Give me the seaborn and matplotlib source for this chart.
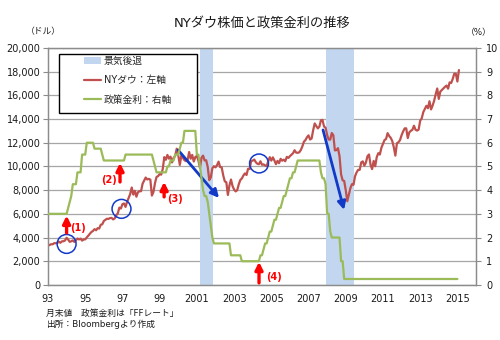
import numpy as np
import pandas as pd
import matplotlib
matplotlib.use("Agg")
import matplotlib.pyplot as plt
import seaborn as sns
from matplotlib.lines import Line2D
from matplotlib.patches import Patch, Rectangle

# ---------------- data ----------------
start_year = 1993  # monthly data, January 1993 onward (month-end values)

dow_monthly = [
    3310, 3370, 3435, 3428, 3527, 3516, 3540, 3651, 3555, 3681, 3684, 3754,   # 1993
    3978, 3832, 3636, 3682, 3758, 3625, 3765, 3913, 3843, 3908, 3739, 3834,   # 1994
    3844, 4011, 4158, 4321, 4465, 4556, 4709, 4611, 4789, 4756, 5075, 5117,   # 1995
    5395, 5486, 5587, 5569, 5643, 5655, 5529, 5616, 5882, 6029, 6522, 6448,   # 1996
    6813, 6878, 6584, 7009, 7331, 7673, 8223, 7622, 7945, 7442, 7823, 7908,   # 1997
    7907, 8546, 8800, 9063, 8900, 8952, 8883, 7539, 7843, 8592, 9117, 9181,   # 1998
    9359, 9307, 9786, 10789, 10560, 10971, 10655, 10829, 10337, 10730, 10878, 11497,  # 1999
    10941, 10128, 10922, 10734, 10522, 10448, 10522, 11215, 10651, 10971, 10415, 10787,  # 2000
    10887, 10495, 9879, 10735, 10912, 10502, 10523, 9950, 8848, 9075, 9852, 10022,  # 2001
    9920, 10106, 10404, 9946, 9925, 9243, 8737, 8664, 7592, 8397, 8896, 8342,  # 2002
    8054, 7891, 7992, 8480, 8850, 8985, 9234, 9416, 9275, 9801, 9782, 10454,  # 2003
    10488, 10584, 10358, 10226, 10188, 10435, 10140, 10174, 10080, 10027, 10428, 10783,  # 2004
    10490, 10766, 10504, 10193, 10467, 10275, 10641, 10482, 10569, 10440, 10806, 10718,  # 2005
    10865, 10993, 11109, 11367, 11168, 11150, 11186, 11381, 11679, 12081, 12222, 12463,  # 2006
    12622, 12269, 12354, 13063, 13628, 13409, 13212, 13358, 13896, 13930, 13372, 13265,  # 2007
    12650, 12266, 12263, 12820, 12638, 11350, 11378, 11544, 10851, 9325, 8829, 8776,  # 2008
    8001, 7063, 7609, 8168, 8500, 8447, 9172, 9496, 9712, 9713, 10345, 10428,  # 2009
    10067, 10325, 10857, 11009, 10137, 9774, 10466, 10015, 10788, 11118, 11006, 11578,  # 2010
    11892, 12226, 12320, 12811, 12570, 12414, 12143, 11614, 10913, 11955, 12046, 12218,  # 2011
    12633, 12952, 13212, 13214, 12393, 12880, 13009, 13091, 13437, 13096, 13026, 13104,  # 2012
    13861, 14054, 14579, 14840, 15116, 14910, 15500, 14810, 15130, 15546, 16086, 16577,  # 2013
    15699, 16322, 16458, 16581, 16717, 16827, 16563, 17098, 17043, 17391, 17828, 17823,  # 2014
    17165, 18133,  # 2015
]

rate_monthly = [
    3.0, 3.0, 3.0, 3.0, 3.0, 3.0, 3.0, 3.0, 3.0, 3.0, 3.0, 3.0,            # 1993
    3.0, 3.25, 3.5, 3.75, 4.25, 4.25, 4.25, 4.75, 4.75, 4.75, 5.5, 5.5,    # 1994
    5.5, 6.0, 6.0, 6.0, 6.0, 6.0, 5.75, 5.75, 5.75, 5.75, 5.75, 5.5,       # 1995
    5.25, 5.25, 5.25, 5.25, 5.25, 5.25, 5.25, 5.25, 5.25, 5.25, 5.25, 5.25,  # 1996
    5.25, 5.25, 5.5, 5.5, 5.5, 5.5, 5.5, 5.5, 5.5, 5.5, 5.5, 5.5,          # 1997
    5.5, 5.5, 5.5, 5.5, 5.5, 5.5, 5.5, 5.5, 5.25, 5.0, 4.75, 4.75,         # 1998
    4.75, 4.75, 4.75, 4.75, 4.75, 5.0, 5.0, 5.25, 5.25, 5.25, 5.5, 5.5,    # 1999
    5.5, 5.75, 6.0, 6.0, 6.5, 6.5, 6.5, 6.5, 6.5, 6.5, 6.5, 6.5,           # 2000
    5.5, 5.5, 5.0, 4.5, 4.0, 3.75, 3.75, 3.5, 3.0, 2.5, 2.0, 1.75,         # 2001
    1.75, 1.75, 1.75, 1.75, 1.75, 1.75, 1.75, 1.75, 1.75, 1.75, 1.25, 1.25,  # 2002
    1.25, 1.25, 1.25, 1.25, 1.25, 1.0, 1.0, 1.0, 1.0, 1.0, 1.0, 1.0,       # 2003
    1.0, 1.0, 1.0, 1.0, 1.0, 1.25, 1.25, 1.5, 1.75, 1.75, 2.0, 2.25,       # 2004
    2.25, 2.5, 2.75, 2.75, 3.0, 3.25, 3.25, 3.5, 3.75, 3.75, 4.0, 4.25,    # 2005
    4.5, 4.5, 4.75, 4.75, 5.0, 5.25, 5.25, 5.25, 5.25, 5.25, 5.25, 5.25,   # 2006
    5.25, 5.25, 5.25, 5.25, 5.25, 5.25, 5.25, 5.25, 4.75, 4.5, 4.5, 4.25,  # 2007
    3.0, 3.0, 2.25, 2.0, 2.0, 2.0, 2.0, 2.0, 2.0, 1.0, 1.0, 0.25,          # 2008
    0.25, 0.25, 0.25, 0.25, 0.25, 0.25, 0.25, 0.25, 0.25, 0.25, 0.25, 0.25,  # 2009
    0.25, 0.25, 0.25, 0.25, 0.25, 0.25, 0.25, 0.25, 0.25, 0.25, 0.25, 0.25,  # 2010
    0.25, 0.25, 0.25, 0.25, 0.25, 0.25, 0.25, 0.25, 0.25, 0.25, 0.25, 0.25,  # 2011
    0.25, 0.25, 0.25, 0.25, 0.25, 0.25, 0.25, 0.25, 0.25, 0.25, 0.25, 0.25,  # 2012
    0.25, 0.25, 0.25, 0.25, 0.25, 0.25, 0.25, 0.25, 0.25, 0.25, 0.25, 0.25,  # 2013
    0.25, 0.25, 0.25, 0.25, 0.25, 0.25, 0.25, 0.25, 0.25, 0.25, 0.25, 0.25,  # 2014
    0.25,  # 2015
]

recession_start = [2001.17, 2007.93]
recession_end = [2001.87, 2009.45]

x_tick_years = [1993, 1995, 1997, 1999, 2001, 2003, 2005, 2007, 2009, 2011, 2013, 2015]
x_tick_labels = ["93", "95", "97", "99", "2001", "2003", "2005", "2007", "2009", "2011", "2013", "2015"]

# annotations (data coordinates)
circle_x = [1994.0, 1996.95, 2004.34]
circle_y = [3460, 6420, 10250]

red_arrow_x = [1994.0, 1996.87, 1999.24, 2004.34]
red_arrow_tail = [4390, 8690, 7430, 170]
red_arrow_tip = [5850, 10300, 8700, 1950]
red_label_text = ["(1)", "(2)", "(3)", "(4)"]
red_label_x = [1994.6, 1996.3, 1999.8, 2005.15]
red_label_y = [4810, 8860, 7260, 680]

blue_arrow_start = [(1999.99, 11390), (2007.78, 13080)]
blue_arrow_end = [(2002.19, 7340), (2008.91, 6330)]

title = "NYダウ株価と政策金利の推移"
legend_labels = ["景気後退", "NYダウ：左軸", "政策金利：右軸"]
note_lines = ["月末値　政策金利は「FFレート」", "出所：Bloombergより作成"]

# ---------------- style ----------------
sns.set_theme(style="white")
plt.rcParams["font.family"] = ["DejaVu Sans", "Noto Sans CJK JP"]

RED = "#C0504D"
GREEN = "#9BBB59"
SHADE = "#C3D6EF"
BLUE = "#1239C8"
GRID = "#A6A6A6"
SPINE = "#8C8C8C"
TXT = "#1a1a1a"

dow_df = pd.DataFrame({"t": start_year + np.arange(len(dow_monthly)) / 12.0, "dow": dow_monthly})
rate_df = pd.DataFrame({"t": start_year + np.arange(len(rate_monthly)) / 12.0, "rate": rate_monthly})

fig = plt.figure(figsize=(5, 3.4), dpi=100)
fig.patch.set_facecolor("white")
ax = fig.add_axes([0.096, 0.162, 0.856, 0.697])
ax2 = ax.twinx()

for s, e in zip(recession_start, recession_end):
    ax.axvspan(s, e, color=SHADE, lw=0, zorder=1)

sns.lineplot(data=dow_df, x="t", y="dow", ax=ax, color=RED, lw=1.6, zorder=3)
sns.lineplot(data=rate_df, x="t", y="rate", ax=ax2, color=GREEN, lw=1.6, zorder=3)

ax.set_xlim(1993, 2016)
ax.set_ylim(0, 20000)
ax2.set_ylim(0, 10)
ax.set_xlabel("")
ax.set_ylabel("")
ax2.set_ylabel("")

ax.set_yticks(np.arange(0, 20001, 2000))
ax.set_yticklabels([f"{v:,}" for v in range(0, 20001, 2000)])
ax2.set_yticks(range(0, 11))
ax.set_xticks(x_tick_years)
ax.set_xticklabels(x_tick_labels)
ax.set_xticks(range(1993, 2017), minor=True)

ax.grid(axis="y", color=GRID, lw=0.9, zorder=0)
ax.set_axisbelow(True)
ax2.grid(False)

for a in (ax, ax2):
    for sp in a.spines.values():
        sp.set_color(SPINE)
        sp.set_linewidth(0.9)
ax.tick_params(axis="both", which="both", direction="out", color=SPINE, length=3.5, width=0.8,
               labelsize=7, labelcolor=TXT, pad=2)
ax.tick_params(axis="x", which="minor", length=3.5)
ax.tick_params(axis="x", pad=3)
ax2.tick_params(axis="y", direction="out", color=SPINE, length=3.5, width=0.8,
                labelsize=7, labelcolor=TXT, pad=4)

# legend box
box = Rectangle((0.026, 0.726), 0.322, 0.249, transform=ax.transAxes, facecolor="white",
                edgecolor="black", lw=1.0, zorder=5)
ax.add_patch(box)
handles = [Patch(facecolor=SHADE, edgecolor="none"),
           Line2D([0], [0], color=RED, lw=1.6),
           Line2D([0], [0], color=GREEN, lw=1.6)]
leg = ax.legend(handles, legend_labels, loc="upper left", bbox_to_anchor=(0.084, 0.965),
                frameon=False, fontsize=7, handlelength=1.8, handletextpad=0.25,
                labelspacing=0.95, borderpad=0, borderaxespad=0)
leg.set_zorder(6)

# circles
ax.scatter(circle_x, circle_y, s=185, facecolors="none", edgecolors=BLUE, linewidths=1.1, zorder=7)

# red arrows and labels
for x, y0, y1 in zip(red_arrow_x, red_arrow_tail, red_arrow_tip):
    ax.annotate("", xy=(x, y1), xytext=(x, y0),
                arrowprops=dict(arrowstyle="-|>", color="#FF0000", lw=2.4, mutation_scale=11,
                                shrinkA=0, shrinkB=0), zorder=7)
for t, x, y in zip(red_label_text, red_label_x, red_label_y):
    ax.text(x, y, t, color="#FF0000", fontsize=7, fontweight="bold", ha="center", va="center", zorder=7)

# blue arrows
for (x0, y0), (x1, y1) in zip(blue_arrow_start, blue_arrow_end):
    ax.annotate("", xy=(x1, y1), xytext=(x0, y0),
                arrowprops=dict(arrowstyle="-|>", color=BLUE, lw=2.0, mutation_scale=12,
                                shrinkA=0, shrinkB=0), zorder=8)

# texts
fig.text(262 / 500, 1 - 23 / 340, title, ha="center", va="center", fontsize=9.5, color=TXT)
fig.text(43 / 500, 1 - 32 / 340, "（ドル）", ha="center", va="center", fontsize=6.3, color=TXT)
fig.text(479 / 500, 1 - 33 / 340, "（%）", ha="center", va="center", fontsize=6.3, color=TXT)
fig.text(46 / 500, 1 - 313 / 340, note_lines[0], ha="left", va="center", fontsize=6.3, color=TXT)
fig.text(46 / 500, 1 - 324 / 340, note_lines[1], ha="left", va="center", fontsize=6.3, color=TXT)

fig.savefig("out.png", dpi=100, facecolor="white")
